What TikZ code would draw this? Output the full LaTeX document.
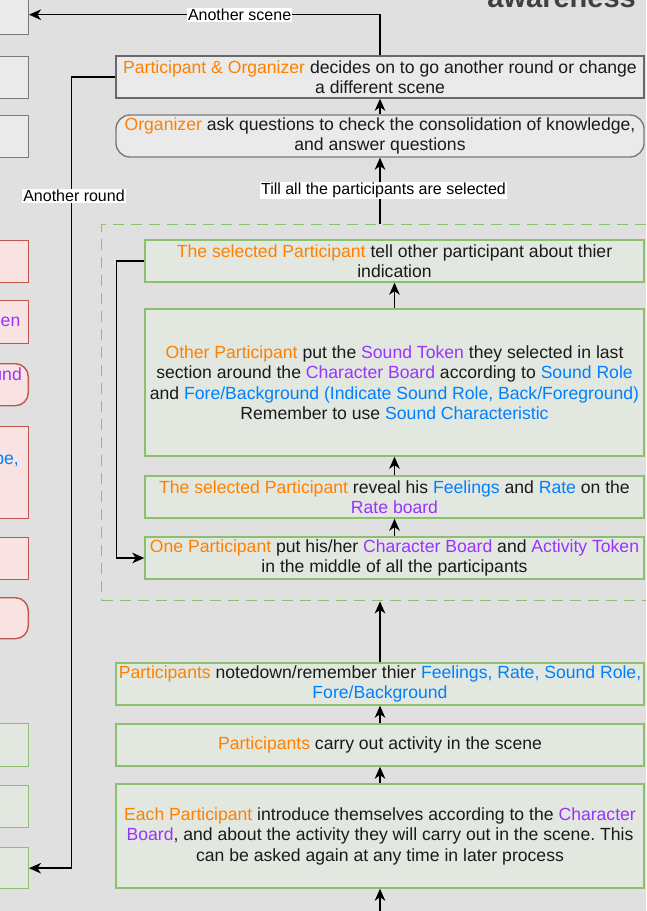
\documentclass[tikz,border=0pt]{standalone}
\usepackage{fontspec}
\setmainfont{Liberation Sans}
\usetikzlibrary{arrows.meta,calc}
\frenchspacing

\definecolor{bg}{HTML}{E0E0E0}
\definecolor{ora}{HTML}{FF8000}
\definecolor{pur}{HTML}{9933FF}
\definecolor{blu}{HTML}{007FFF}
\definecolor{txt}{HTML}{1A1A1A}
\definecolor{titlegray}{HTML}{404040}
\definecolor{grnline}{HTML}{8CBF6E}
\definecolor{grnfill}{HTML}{E2E8E0}
\definecolor{redline}{HTML}{BF5650}
\definecolor{redfill}{HTML}{F9E2E2}
\definecolor{gryline}{HTML}{7A7A7A}
\definecolor{gryfill}{HTML}{EAEAEA}

\newcommand{\tOr}[1]{\textcolor{ora}{#1}}
\newcommand{\tPu}[1]{\textcolor{pur}{#1}}
\newcommand{\tBl}[1]{\textcolor{blu}{#1}}
\newcommand{\boxfont}{\fontsize{17.6}{20.5}\selectfont}
\newcommand{\labfont}{\fontsize{16}{18}\selectfont}

\tikzset{
  base/.style={line width=1.4pt, align=center, inner sep=0pt, text=txt, font=\boxfont},
  gbox/.style={base, draw=grnline, fill=grnfill},
  greybox/.style={base, draw=gryline, fill=gryfill},
  redbox/.style={base, draw=redline, fill=redfill},
  wide/.style={minimum width=528},
  narrow/.style={minimum width=499},
  grpbox/.style={draw=grnline, line width=1.4pt, dash pattern=on 11pt off 7pt, inner sep=0pt},
  conn/.style={line width=1.5pt, draw=black, -{Stealth[length=12pt,width=10.5pt,inset=3.5pt]}},
  elabel/.style={fill=white, inner sep=1pt, font=\labfont, text=black},
  leftbox/.style={anchor=north east, minimum width=60},
  frag/.style={anchor=east, inner sep=0pt, font=\boxfont},
}

\begin{document}
\begin{tikzpicture}[x=1pt,y=-1pt]
\useasboundingbox (0,0) rectangle (646,911);
\clip (0,0) rectangle (646,911);
\fill[bg] (0,0) rectangle (646,911);

% heading, mostly above the top edge
\node[anchor=base east, font=\bfseries\fontsize{29}{30}\selectfont, text=titlegray, inner sep=0pt] (title) at (636,7) {awareness};

% left column of steps (only their right ends show)
\node[greybox, leftbox, minimum height=40] (L1) at (29,-6) {};
\node[greybox, leftbox, minimum height=42] (L2) at (29,56) {};
\node[greybox, leftbox, minimum height=42] (L3) at (29,115) {};
\node[redbox, leftbox, minimum height=42] (L4) at (29,240) {};
\node[redbox, leftbox, minimum height=43] (L5) at (29,300) {};
\node[redbox, leftbox, minimum height=42, rounded corners=13pt] (L6) at (29,363) {};
\node[redbox, leftbox, minimum height=92] (L7) at (29,426) {};
\node[redbox, leftbox, minimum height=42] (L8) at (29,537) {};
\node[redbox, leftbox, minimum height=41, rounded corners=13pt] (L9) at (29,597) {};
\node[gbox, leftbox, minimum height=43] (L10) at (29,723) {};
\node[gbox, leftbox, minimum height=42] (L11) at (29,785) {};
\node[gbox, leftbox, minimum height=41] (L12) at (29,847) {};

\node[frag, text=pur] (fragA) at (20.5,322) {en};
\node[frag, text=pur] (fragB) at (22,374) {und};
\node[frag, text=blu] (fragC) at (19,462) {pe,};

% main column
\node[greybox, wide, minimum height=42, draw=gryline!85!black] (top) at (380,77)
  {\tOr{Participant \& Organizer} decides on to go another round or change\\ a different scene};
\node[greybox, wide, minimum height=42, rounded corners=14pt] (org) at (380,136)
  {\tOr{Organizer} ask questions to check the consolidation of knowledge,\\ and answer questions};

% one participant's turn, repeated
\node[grpbox, anchor=north west, minimum width=570, minimum height=376] (grp) at (101,224) {};

\node[gbox, narrow, minimum height=42] (tell) at (394.5,261)
  {\tOr{The selected Participant} tell other participant about thier\\ indication};
\node[gbox, narrow, minimum height=147] (other) at (394.5,382.5)
  {\tOr{Other Participant} put the \tPu{Sound Token} they selected in last\\
   section around the \tPu{Character Board} according to \tBl{Sound Role}\\
   and \tBl{Fore/Background (Indicate Sound Role, Back/Foreground)}\\
   Remember to use \tBl{Sound Characteristic}};
\node[gbox, narrow, minimum height=42] (reveal) at (394.5,497)
  {\tOr{The selected Participant} reveal his \tBl{Feelings} and \tBl{Rate} on the\\ \tPu{Rate board}};
\node[gbox, narrow, minimum height=42] (one) at (394.5,558)
  {\tOr{One Participant} put his/her \tPu{Character Board} and \tPu{Activity Token}\\ in the middle of all the participants};

\node[gbox, wide, minimum height=42] (note) at (380,684)
  {\tOr{Participants} notedown/remember thier \tBl{Feelings, Rate, Sound Role,}\\ \tBl{Fore/Background}};
\node[gbox, wide, minimum height=42] (carry) at (380,745)
  {\tOr{Participants} carry out activity in the scene};
\node[gbox, wide, minimum height=104] (each) at (380,836)
  {\tOr{Each Participant} introduce themselves according to the \tPu{Character}\\
   \tPu{Board}, and about the activity they will carry out in the scene. This\\
   can be asked again at any time in later process};

% connectors
\coordinate (src) at (380,925);
\draw[conn] (src) -- (each.south);
\draw[conn] (each.north) -- (carry.south);
\draw[conn] (carry.north) -- (note.south);
\draw[conn] (note.north) -- (note.north |- grp.south);

\draw[conn] (one.north) -- (reveal.south);
\draw[conn] (reveal.north) -- (other.south);
\draw[conn] (other.north) -- (tell.south);
\draw[conn] (tell.west) -- ++(-28,0) |- (one.west);

\draw[conn] (grp.north -| org.south) -- node[elabel, pos=0.5, xshift=3.5pt] (lblTill) {Till all the participants are selected} (org.south);
\draw[conn] (org.north) -- (top.south);

\draw[conn] (top.north) |- node[elabel, pos=0.7] (lblScene) {Another scene} (L1.east);
\draw[conn] (top.west) -- ++(-44,0) |- (L12.east);
\node[elabel, xshift=2pt] (lblRound) at (72,196) {Another round};
\end{tikzpicture}
\end{document}
